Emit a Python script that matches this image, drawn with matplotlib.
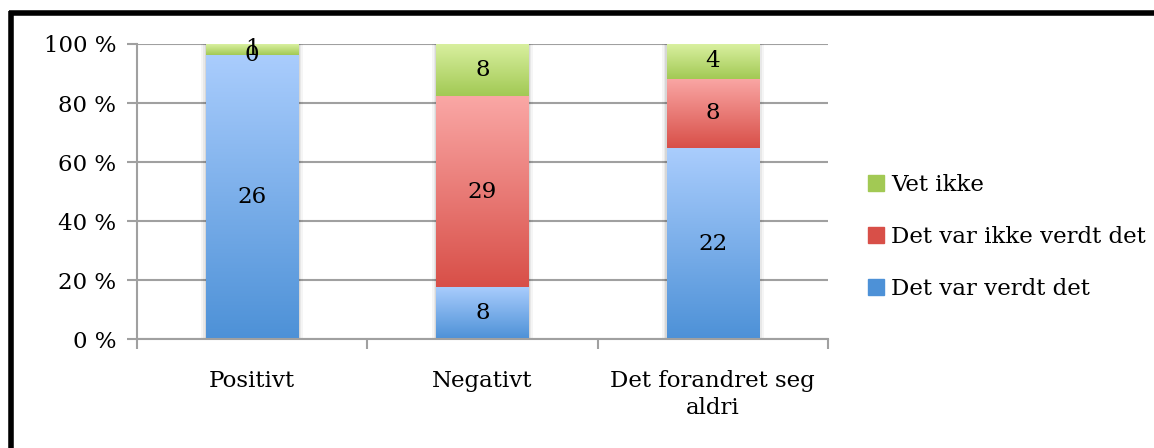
import numpy as np
from matplotlib import pyplot as plt
from matplotlib.colors import LinearSegmentedColormap
from matplotlib.patches import Rectangle
from matplotlib.lines import Line2D

categories = ["Positivt", "Negativt", "Det forandret seg\naldri"]
series_names = ["Det var verdt det", "Det var ikke verdt det", "Vet ikke"]
verdt = [26, 8, 22]
ikke_verdt = [0, 29, 8]
vet_ikke = [1, 8, 4]
y_ticks = [0, 20, 40, 60, 80, 100]

# light (top) -> dark (bottom) for each series
grad_colors = [("#aacdfd", "#4d91d7"), ("#faa7a5", "#d84f48"), ("#d9f0a0", "#a2c954")]

plt.rcParams['font.family'] = ['DejaVu Serif']
fig = plt.figure(figsize=(11.54, 4.48), dpi=100)
ax = fig.add_axes([137/1154, 1-339/448, 691/1154, 295/448])

counts = np.array([verdt, ikke_verdt, vet_ikke], dtype=float)
totals = counts.sum(axis=0)
pct = counts / totals * 100

x = np.arange(len(categories)) + 0.5
w = 0.4
grad = np.linspace(1, 0, 256).reshape(-1, 1)

# soft shadow behind bars
for xi in x:
    for k, a in zip([0.02, 0.012, 0.006], [0.04, 0.05, 0.07]):
        ax.add_patch(Rectangle((xi - w/2 - k, 0), w + 2*k, 100.3, color="#000000",
                               alpha=a, lw=0, zorder=1.5))

bottom = np.zeros(len(categories))
for s in range(3):
    cmap = LinearSegmentedColormap.from_list("g%d" % s, [grad_colors[s][1], grad_colors[s][0]])
    for i, xi in enumerate(x):
        h = pct[s, i]
        if h > 0:
            ax.imshow(grad, cmap=cmap, aspect='auto', vmin=0, vmax=1,
                      extent=(xi - w/2, xi + w/2, bottom[i], bottom[i] + h), zorder=2)
        ax.text(xi, bottom[i] + h/2, "%d" % counts[s, i], ha='center', va='center',
                fontsize=16.5, zorder=3)
    bottom += pct[s]

ax.set_xlim(0, 3)
ax.set_ylim(0, 100)
ax.set_yticks(y_ticks)
ax.set_yticklabels(["%d %%" % t for t in y_ticks], fontsize=16.5)
ax.set_xticks([0, 1, 2, 3])
ax.set_xticklabels([])
ax.set_xticks(x, minor=True)
ax.set_xticklabels(categories, minor=True, fontsize=16.5, linespacing=1.3)
ax.tick_params(axis='x', which='minor', length=0, pad=22)
ax.tick_params(axis='x', which='major', length=7, width=1.5, color="#a0a0a0", direction='out')
ax.tick_params(axis='y', length=7, width=1.5, color="#a0a0a0", pad=8)
ax.yaxis.grid(True, color="#a0a0a0", lw=1.5, zorder=0)
ax.set_axisbelow(True)
for sp in ['top', 'right']:
    ax.spines[sp].set_visible(False)
for sp in ['left', 'bottom']:
    ax.spines[sp].set_color("#a0a0a0")
    ax.spines[sp].set_linewidth(1.5)

# legend
handles = [Rectangle((0, 0), 1, 1, color=grad_colors[s][1]) for s in range(3)]
leg = fig.legend(handles[::-1], series_names[::-1], loc='center left',
                 bbox_to_anchor=(868/1154, 1-237/448), frameon=False, fontsize=16.5,
                 handlelength=0.7, handleheight=0.7, handletextpad=0.3, labelspacing=1.3,
                 borderaxespad=0, borderpad=0)

# outer frame
fig.add_artist(Line2D([11/1154, 11/1154], [0, 1-11/448], color='black', lw=4,
                      solid_capstyle='butt', transform=fig.transFigure))
fig.add_artist(Line2D([9/1154, 1], [1-13/448, 1-13/448], color='black', lw=4,
                      solid_capstyle='butt', transform=fig.transFigure))

fig.savefig("out.png", dpi=100)
